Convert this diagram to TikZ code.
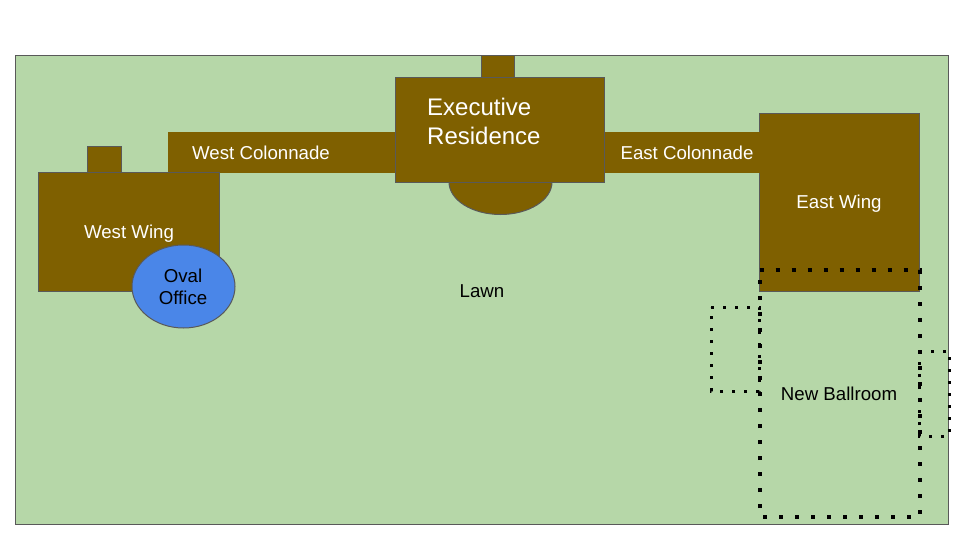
\documentclass[tikz,border=0pt]{standalone}
\usepackage{fontspec}
\setmainfont{Liberation Sans}
\definecolor{lawngreen}{HTML}{B6D7A8}
\definecolor{wingbrown}{HTML}{7F6000}
\definecolor{officeblue}{HTML}{4A86E8}
\definecolor{edgegray}{HTML}{595959}
\tikzset{
    building/.style={fill=wingbrown, draw=edgegray, line width=1pt},
    walkway/.style={fill=wingbrown, draw=wingbrown, line width=1pt},
    bigdots/.style={draw=black, line width=4pt, dash pattern=on 4pt off 12pt},
    smalldots/.style={draw=black, line width=3pt, dash pattern=on 3pt off 9pt},
    whitelabel/.style={text=white, font=\fontsize{18.67}{22}\selectfont, align=center, inner sep=0pt},
    blacklabel/.style={text=black, font=\fontsize{18.67}{22}\selectfont, align=center, inner sep=0pt},
}

\begin{document}
\begin{tikzpicture}[x=1pt, y=-1pt]
    \useasboundingbox (0,0) rectangle (960,540);

    \draw[fill=lawngreen, draw=edgegray, line width=1pt] (15.5,55.5) rectangle (948.5,524.5);

    % colonnades
    \draw[building] (759.5,113.5) rectangle (919.5,291.5);
    \draw[walkway] (168.5,132.5) rectangle (395.5,172.5);
    \draw[walkway] (604.5,132.5) rectangle (759.5,172.5);

    % west wing
    \draw[building] (87.5,146.5) rectangle (121.5,172.5);
    \draw[building] (38.5,172.5) rectangle (219.5,291.5);
    \draw[fill=officeblue, draw=edgegray, line width=1pt] (183.5,286.5) ellipse (51.5 and 41.5);

    % centre block
    \draw[building] (481,55.5) rectangle (514,77.5);
    \draw[building] (500.5,182) ellipse (51.5 and 32.5);
    \draw[building] (395.5,77.5) rectangle (604.5,182.5);

    % ballroom outline
    \draw[smalldots] (711,307) -- (759,307) -- (759,391) -- (711,391) -- cycle;
    \draw[smalldots] (919,351) -- (949,351) -- (949,436) -- (919,436) -- cycle;
    \draw[bigdots] (759.5,270) -- (919.5,270) -- (919.5,517) -- (759.5,517) -- cycle;

    \node[whitelabel] (westcolonnade) at (261,153) {West Colonnade};
    \node[whitelabel] (eastcolonnade) at (687,153) {East Colonnade};
    \node[whitelabel, anchor=west, align=left, font=\fontsize{24}{29}\selectfont] (residence) at (427,121) {Executive\\Residence};
    \node[whitelabel] (westwing) at (129,234) {West Wing};
    \node[whitelabel] (eastwing) at (839,204) {East Wing};
    \node[blacklabel] (oval) at (183,287) {Oval\\Office};
    \node[blacklabel] (lawn) at (482,291) {Lawn};
    \node[blacklabel] (ballroom) at (839,394) {New Ballroom};
\end{tikzpicture}
\end{document}
